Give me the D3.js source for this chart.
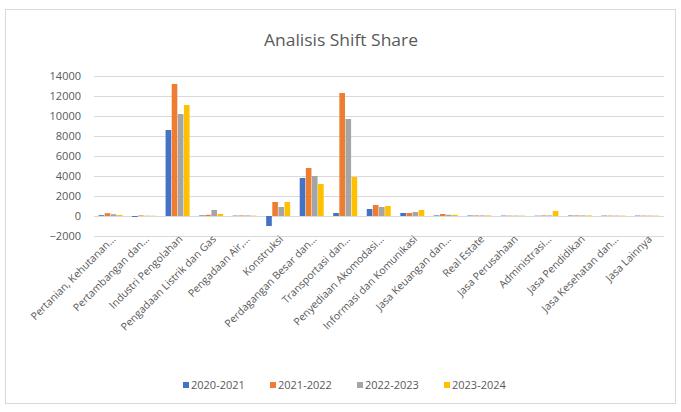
<!DOCTYPE html>
<html><head><meta charset="utf-8">
<script src="https://cdn.jsdelivr.net/npm/d3@7/dist/d3.min.js"></script>
<style>body{margin:0;background:#fff}svg{display:block}</style>
</head><body><svg id="c" width="681" height="412"></svg>
<script>
const categories = ["Pertanian, Kehutanan…","Pertambangan dan…","Industri Pengolahan","Pengadaan Listrik dan Gas","Pengadaan Air,…","Konstruksi","Perdagangan Besar dan…","Transportasi dan…","Penyediaan Akomodasi…","Informasi dan Komunikasi","Jasa Keuangan dan…","Real Estate","Jasa Perusahaan","Administrasi…","Jasa Pendidikan","Jasa Kesehatan dan…","Jasa Lainnya"];
const seriesNames = ["2020-2021","2021-2022","2022-2023","2023-2024"];
const s2020 = [80, -100, 8600, 60, 40, -1000, 3800, 300, 700, 300, 60, 50, 40, 30, 50, 40, 40];
const s2021 = [280, 60, 13200, 120, 60, 1400, 4800, 12300, 1100, 300, 200, 60, 40, 60, 60, 40, 40];
const s2022 = [180, 30, 10200, 600, 60, 900, 4000, 9700, 900, 400, 120, 60, 40, 60, 60, 40, 40];
const s2023 = [100, 30, 11100, 200, 40, 1400, 3200, 3900, 1000, 600, 120, 60, 40, 500, 60, 40, 40];
const yTicks = [-2000,0,2000,4000,6000,8000,10000,12000,14000];
const colors = ["#4472C4","#ED7D31","#A5A5A5","#FFC000"];
const series = [s2020,s2021,s2022,s2023];

const svg = d3.select("#c");
const font = "'Open Sans', 'Noto Sans', sans-serif";
svg.append("rect").attr("x",5.5).attr("y",9.5).attr("width",670).attr("height",394)
  .attr("fill","#fff").attr("stroke","#d9d9d9");
svg.append("text").attr("x",341).attr("y",46).attr("text-anchor","middle")
  .attr("font-family",font).attr("font-size",16).attr("fill","#595959")
  .attr("textLength",154).attr("lengthAdjust","spacingAndGlyphs").text("Analisis Shift Share");

const x = d3.scaleBand().domain(categories).range([94,664]).paddingInner(0.27).paddingOuter(0.135);
const xs = d3.scaleBand().domain(seriesNames).range([0,x.bandwidth()]);
const y = d3.scaleLinear().domain([-2000,14000]).range([236,76]);

const g = svg.append("g");
g.selectAll("line.grid").data(yTicks).join("line").attr("class","grid")
  .attr("x1",94).attr("x2",664).attr("y1",d=>y(d)+0.5).attr("y2",d=>y(d)+0.5)
  .attr("stroke","#d9d9d9").attr("stroke-width",1);

const yAxis = d3.axisLeft(y).tickValues(yTicks).tickSize(0).tickPadding(8).tickFormat(d3.format("d"));
const ya = svg.append("g").attr("transform","translate(81,0)").call(yAxis);
ya.select(".domain").remove();
ya.selectAll("text").attr("font-family",font).attr("font-size",11).attr("fill","#595959").attr("x",0);

series.forEach((vals,si)=>{
  g.selectAll("rect.s"+si).data(vals).join("rect").attr("class","s"+si)
    .attr("x",(d,i)=>x(categories[i])+xs(seriesNames[si]))
    .attr("width",xs.bandwidth()-0.5)
    .attr("y",d=>Math.min(y(d),y(0)))
    .attr("height",d=>Math.abs(y(d)-y(0)))
    .attr("fill",colors[si]);
});

const xAxis = d3.axisBottom(x).tickSize(0).tickPadding(0);
const xa = svg.append("g").attr("transform","translate(0,240)").call(xAxis);
xa.select(".domain").remove();
xa.selectAll("text").attr("font-family",font).attr("font-size",10.5).attr("fill","#595959")
  .attr("text-anchor","end").attr("dy","0.35em").attr("x",4).attr("y",0)
  .attr("transform","rotate(-45)");

const leg = svg.append("g");
const lx = [183,270,357,444];
seriesNames.forEach((n,i)=>{
  leg.append("rect").attr("x",lx[i]).attr("y",382).attr("width",6).attr("height",6).attr("fill",colors[i]);
  leg.append("text").attr("x",lx[i]+8).attr("y",388.5).attr("font-family",font).attr("font-size",11)
    .attr("fill","#595959").text(n);
});
</script></body></html>
